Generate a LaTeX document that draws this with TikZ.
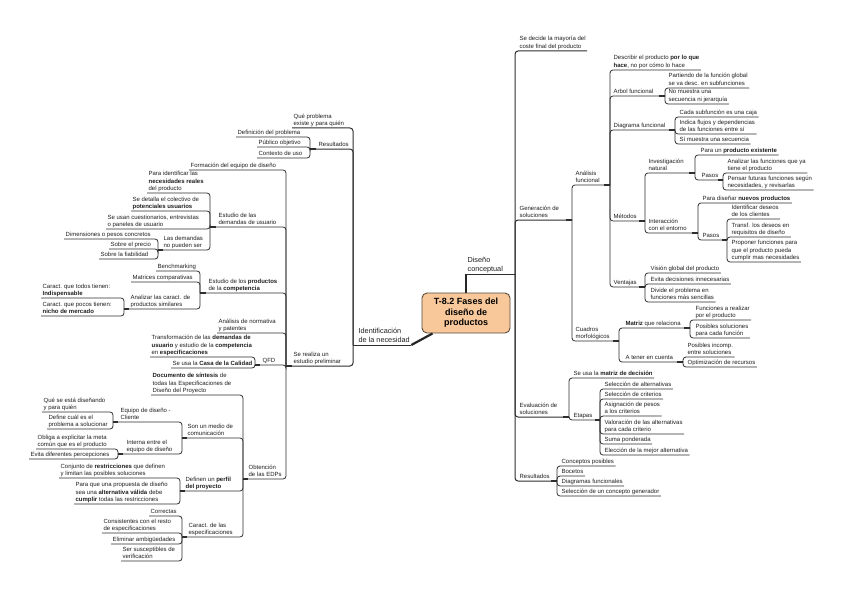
\documentclass[tikz,border=0pt]{standalone}
\usepackage{fontspec}
\setmainfont{Liberation Sans}
\usepackage{tikz}

\definecolor{boxfill}{HTML}{F8C89A}
\definecolor{boxline}{HTML}{5A4A3A}
\definecolor{linecol}{HTML}{2E2E2E}
\definecolor{txtcol}{HTML}{1E1E1E}

\begin{document}
\begin{tikzpicture}[x=1pt, y=-1pt,
    topic/.style={anchor=south west, font=\fontsize{6}{7.4}\selectfont, text=txtcol,
        align=left, inner ysep=0.8pt, inner xsep=1.4pt, text depth=1.6pt},
    main/.style={topic, font=\fontsize{7.3}{8.6}\selectfont},
    root/.style={draw=boxline, fill=boxfill, rounded corners=5pt, line width=0.9pt,
        font=\fontsize{9}{10.5}\selectfont\bfseries, align=center,
        minimum width=88pt, minimum height=40pt, inner sep=2pt},
    conn/.style={draw=linecol, line width=0.8pt, rounded corners=3pt},
    conn1/.style={conn, line width=1pt},
    hub/.style={draw=linecol, line width=1.8pt},
    trunk/.style={draw=black!85, line width=2.2pt}]

    \useasboundingbox (0,0) rectangle (848,599);

    % =================================================================
    % TEMA CENTRAL
    % =================================================================
    \node[root] (root) at (466,313) {T-8.2 Fases del\\diseño de\\productos};

    % =================================================================
    % RAMA DERECHA: DISEÑO CONCEPTUAL
    % =================================================================
    \node[main] (dc) at (466,274) {Diseño\\conceptual};
    \coordinate (dcJ) at (515,274);

    \node[topic] (sd)  at (518,51)  {Se decide la mayoría del\\coste final del producto};
    \node[topic] (gen) at (518,220) {Generación de\\soluciones};
    \node[topic] (eva) at (518,417) {Evaluación de\\soluciones};
    \node[topic] (res) at (518,481) {Resultados};
    \coordinate (genJ) at (572,220);
    \coordinate (evaJ) at (569,417);
    \coordinate (resJ) at (557,481);

    % Generación de soluciones
    \node[topic] (af) at (574,185) {Análisis\\funcional};
    \node[topic] (cm) at (574,341) {Cuadros\\morfológicos};
    \coordinate (afJ) at (610,185);
    \coordinate (cmJ) at (619,341);

    % Análisis funcional
    \node[topic] (desc) at (612,70)  {Describir el producto \textbf{por lo que}\\\textbf{hace}, no por cómo lo hace};
    \node[topic] (arb)  at (612,96)  {Arbol funcional};
    \node[topic] (diag) at (612,130) {Diagrama funcional};
    \node[topic] (met)  at (612,221) {Métodos};
    \node[topic] (ven)  at (612,287) {Ventajas};
    \coordinate (arbJ)  at (665,96);
    \coordinate (diagJ) at (675,130);
    \coordinate (metJ)  at (645,221);
    \coordinate (venJ)  at (645,287);

    \node[topic] (part) at (667,88)  {Partiendo de la función global\\se va desc. en subfunciones};
    \node[topic] (nom)  at (667,104) {No muestra una\\secuencia ni jerarquía};

    \node[topic] (caja)   at (678,117) {Cada subfunción es una caja};
    \node[topic] (flujos) at (678,134) {Indica flujos y dependencias\\de las funciones entre sí};
    \node[topic] (sec)    at (678,144) {Sí muestra una secuencia};

    % Métodos
    \node[topic] (inv)   at (647,173) {Investigación\\natural};
    \node[topic] (inter) at (647,233) {Interacción\\con el entorno};
    \coordinate (invJ)   at (695,173);
    \coordinate (interJ) at (698,233);

    \node[topic] (pex)  at (699,155) {Para un \textbf{producto existente}};
    \node[topic] (pas1) at (700,180) {Pasos};
    \coordinate (pas1J) at (723,180);
    \node[topic] (anl)  at (726,173) {Analizar las funciones que ya\\tiene el producto};
    \node[topic] (pens) at (726,190) {Pensar futuras funciones según\\necesidades, y revisarlas};

    \node[topic] (pdn)  at (701,203) {Para diseñar \textbf{nuevos productos}};
    \node[topic] (pas2) at (701,240) {Pasos};
    \coordinate (pas2J) at (727,240);
    \node[topic] (iden)   at (730,219) {Identificar deseos\\de los clientes};
    \node[topic] (transf) at (730,237) {Transf. los deseos en\\requisitos de diseño};
    \node[topic] (prop)   at (730,262) {Proponer funciones para\\que el producto pueda\\cumplir mas necesidades};

    % Ventajas
    \node[topic] (vis) at (649,273) {Visión global del producto};
    \node[topic] (evi) at (649,284) {Evita decisiones innecesarias};
    \node[topic] (div) at (649,302) {Divide el problema en\\funciones más sencillas};

    % Cuadros morfológicos
    \node[topic] (mat) at (624,328) {\textbf{Matriz} que relaciona};
    \node[topic] (ate) at (624,362) {A tener en cuenta};
    \coordinate (matJ) at (690,328);
    \coordinate (ateJ) at (683,362);
    \node[topic] (fun) at (694,320) {Funciones a realizar\\por el producto};
    \node[topic] (pos) at (694,338) {Posibles soluciones\\para cada función};
    \node[topic] (inc) at (686,357) {Posibles incomp.\\entre soluciones};
    \node[topic] (opt) at (686,367) {Optimización de recursos};

    % Evaluación de soluciones
    \node[topic] (mdd) at (572,378) {Se usa la \textbf{matriz de decisión}};
    \node[topic] (eta) at (572,420) {Etapas};
    \coordinate (etaJ) at (600,420);
    \node[topic] (sa)   at (603,389) {Selección de alternativas};
    \node[topic] (sc)   at (603,399) {Selección de criterios};
    \node[topic] (asi)  at (603,416) {Asignación de pesos\\a los criterios};
    \node[topic] (val)  at (603,434) {Valoración de las alternativas\\para cada criterio};
    \node[topic] (suma) at (603,444) {Suma ponderada};
    \node[topic] (ele)  at (603,455) {Elección de la mejor alternativa};

    % Resultados
    \node[topic] (cp)  at (560,466) {Conceptos posibles};
    \node[topic] (boc) at (560,476) {Bocetos};
    \node[topic] (dfu) at (560,486) {Diagramas funcionales};
    \node[topic] (scg) at (560,496) {Selección de un concepto generador};

    % conectores derecha
    \draw[trunk] (root.north) -- (dc.south west);
    \draw[conn1] (dc.south west) -- (dcJ);
    \draw[conn1] (dcJ) |- (sd.south east);
    \draw[conn1] (dcJ) |- (genJ);
    \draw[conn1] (dcJ) |- (evaJ);
    \draw[conn1] (dcJ) |- (resJ);

    \draw[conn] (genJ) |- (afJ);
    \draw[conn] (genJ) |- (cmJ);

    \draw[conn] (afJ) |- (desc.south east);
    \draw[conn] (afJ) |- (arbJ);
    \draw[conn] (afJ) |- (diagJ);
    \draw[conn] (afJ) |- (metJ);
    \draw[conn] (afJ) |- (venJ);

    \draw[conn] (arbJ) |- (part.south east);
    \draw[conn] (arbJ) |- (nom.south east);
    \draw[conn] (diagJ) |- (caja.south east);
    \draw[conn] (diagJ) |- (flujos.south east);
    \draw[conn] (diagJ) |- (sec.south east);

    \draw[conn] (metJ) |- (invJ);
    \draw[conn] (metJ) |- (interJ);
    \draw[conn] (invJ) |- (pex.south east);
    \draw[conn] (invJ) |- (pas1J);
    \draw[conn] (pas1J) |- (anl.south east);
    \draw[conn] (pas1J) |- (pens.south east);
    \draw[conn] (interJ) |- (pdn.south east);
    \draw[conn] (interJ) |- (pas2J);
    \draw[conn] (pas2J) |- (iden.south east);
    \draw[conn] (pas2J) |- (transf.south east);
    \draw[conn] (pas2J) |- (prop.south east);

    \draw[conn] (venJ) |- (vis.south east);
    \draw[conn] (venJ) |- (evi.south east);
    \draw[conn] (venJ) |- (div.south east);

    \draw[conn] (cmJ) |- (matJ);
    \draw[conn] (cmJ) |- (ateJ);
    \draw[conn] (matJ) |- (fun.south east);
    \draw[conn] (matJ) |- (pos.south east);
    \draw[conn] (ateJ) |- (inc.south east);
    \draw[conn] (ateJ) |- (opt.south east);

    \draw[conn] (evaJ) |- (mdd.south east);
    \draw[conn] (evaJ) |- (etaJ);
    \draw[conn] (etaJ) |- (sa.south east);
    \draw[conn] (etaJ) |- (sc.south east);
    \draw[conn] (etaJ) |- (asi.south east);
    \draw[conn] (etaJ) |- (val.south east);
    \draw[conn] (etaJ) |- (suma.south east);
    \draw[conn] (etaJ) |- (ele.south east);

    \draw[conn] (resJ) |- (cp.south east);
    \draw[conn] (resJ) |- (boc.south east);
    \draw[conn] (resJ) |- (dfu.south east);
    \draw[conn] (resJ) |- (scg.south east);

    % engrosamientos en los nudos
    \draw[hub] (genJ) -- ++(-6,0);
    \draw[hub] (evaJ) -- ++(-6,0);
    \draw[hub] (resJ) -- ++(-6,0);
    \draw[hub] (afJ) -- ++(-6,0);
    \draw[hub] (cmJ) -- ++(-6,0);
    \draw[hub] (arbJ) -- ++(-6,0);
    \draw[hub] (diagJ) -- ++(-6,0);
    \draw[hub] (metJ) -- ++(-6,0);
    \draw[hub] (venJ) -- ++(-6,0);
    \draw[hub] (invJ) -- ++(-6,0);
    \draw[hub] (interJ) -- ++(-6,0);
    \draw[hub] (pas1J) -- ++(-5,0);
    \draw[hub] (pas2J) -- ++(-5,0);
    \draw[hub] (matJ) -- ++(-6,0);
    \draw[hub] (ateJ) -- ++(-6,0);
    \draw[hub] (etaJ) -- ++(-5,0);

    % =================================================================
    % RAMA IZQUIERDA: IDENTIFICACIÓN DE LA NECESIDAD
    % =================================================================
    \node[main] (idn) at (357,345) {Identificación\\de la necesidad};
    \coordinate (idnJ) at (353,345);

    \node[topic] (qp)   at (292,128) {Qué problema\\existe y para quién};
    \node[topic] (resL) at (317,149) {Resultados};
    \node[topic] (ser)  at (292,366) {Se realiza un\\estudio preliminar};
    \coordinate (resLJ) at (310,149);
    \coordinate (serJ)  at (286,366);

    % Resultados
    \node[topic] (defp) at (236,137) {Definición del problema};
    \node[topic] (pub)  at (257,147) {Público objetivo};
    \node[topic] (ctx)  at (257,158) {Contexto de uso};

    % Se realiza un estudio preliminar
    \node[topic] (form) at (189,170) {Formación del equipo de diseño};
    \node[topic] (edu)  at (217,227) {Estudio de las\\demandas de usuario};
    \node[topic] (epc)  at (207,293) {Estudio de los \textbf{productos}\\de la \textbf{competencia}};
    \node[topic] (anp)  at (217,333) {Análisis de normativa\\y patentes};
    \node[topic] (qfd)  at (261,365) {QFD};
    \node[topic] (obt)  at (247,479) {Obtención\\de las EDPs};
    \coordinate (eduJ) at (210,227);
    \coordinate (epcJ) at (200,293);
    \coordinate (qfdJ) at (255,365);
    \coordinate (obtJ) at (243,479);

    % Estudio de las demandas de usuario
    \node[topic] (pid) at (147,193) {Para identificar las\\\textbf{necesidades reales}\\del producto};
    \node[topic] (sdc) at (131,211) {Se detalla el colectivo de\\\textbf{potenciales usuarios}};
    \node[topic] (suc) at (106,229) {Se usan cuestionarios, entrevistas\\o paneles de usuario};
    \node[topic] (ldn) at (162,250) {Las demandas\\no pueden ser};
    \coordinate (ldnJ) at (158,250);
    \node[topic] (dim) at (64,239)  {Dimensiones o pesos concretos};
    \node[topic] (sep) at (109,249) {Sobre el precio};
    \node[topic] (sfi) at (99,259)  {Sobre la fiabilidad};

    % Estudio de los productos de la competencia
    \node[topic] (ben) at (156,271) {Benchmarking};
    \node[topic] (mco) at (131,282) {Matrices comparativas};
    \node[topic] (acs) at (129,309) {Analizar las caract. de\\productos similares};
    \coordinate (acsJ) at (124,309);
    \node[topic] (ctt) at (41,298) {Caract. que todos tienen:\\\textbf{Indispensable}};
    \node[topic] (cpt) at (41,316) {Caract. que pocos tienen:\\\textbf{nicho de mercado}};

    % QFD
    \node[topic] (tra) at (150,357) {Transformación de las \textbf{demandas de}\\\textbf{usuario} y estudio de la \textbf{competencia}\\en \textbf{especificaciones}};
    \node[topic] (cdc) at (171,368) {Se usa la \textbf{Casa de la Calidad}};

    % Obtención de las EDPs
    \node[topic] (doc)  at (151,395) {\textbf{Documento de síntesis} de\\todas las Especificaciones de\\Diseño del Proyecto};
    \node[topic] (smc)  at (186,438) {Son un medio de\\comunicación};
    \node[topic] (dpp)  at (184,491) {Definen un \textbf{perfil}\\\textbf{del proyecto}};
    \node[topic] (cesp) at (187,537) {Caract. de las\\especificaciones};
    \coordinate (smcJ)  at (182,438);
    \coordinate (dppJ)  at (180,491);
    \coordinate (cespJ) at (182,537);

    \node[topic] (edc) at (119,422) {Equipo de diseño -\\Cliente};
    \node[topic] (ieq) at (125,454) {Interna entre el\\equipo de diseño};
    \coordinate (edcJ) at (113,422);
    \coordinate (ieqJ) at (118,454);
    \node[topic] (qsd) at (42,412) {Qué se está diseñando\\y para quién};
    \node[topic] (dcp) at (47,429) {Define cuál es el\\problema a solucionar};
    \node[topic] (obl) at (36,449) {Obliga a explicitar la meta\\común que es el producto};
    \node[topic] (edp) at (29,459) {Evita diferentes percepciones};

    \node[topic] (cjr) at (59,478) {Conjunto de \textbf{restricciones} que definen\\y limitan las posibles soluciones};
    \node[topic] (pqu) at (74,504) {Para que una propuesta de diseño\\sea una \textbf{alternativa válida} debe\\\textbf{cumplir} todas las restricciones};

    \node[topic] (cor)  at (149,516) {Correctas};
    \node[topic] (cons) at (102,533) {Consistentes con el resto\\de especificaciones};
    \node[topic] (elim) at (111,544) {Eliminar ambigüedades};
    \node[topic] (ssv)  at (121,561) {Ser susceptibles de\\verificación};

    % conectores izquierda
    \draw[trunk] ([xshift=11pt]root.south west) -- (idn.south east);
    \draw[conn1] (idn.south east) -- (idnJ);
    \draw[conn1] (idnJ) |- (qp.south west);
    \draw[conn1] (idnJ) |- (resLJ);
    \draw[conn1] (idnJ) |- (serJ);

    \draw[conn] (resLJ) |- (defp.south west);
    \draw[conn] (resLJ) |- (pub.south west);
    \draw[conn] (resLJ) |- (ctx.south west);

    \draw[conn] (serJ) |- (form.south west);
    \draw[conn] (serJ) |- (eduJ);
    \draw[conn] (serJ) |- (epcJ);
    \draw[conn] (serJ) |- (anp.south west);
    \draw[conn] (serJ) |- (qfdJ);
    \draw[conn] (serJ) |- (obtJ);

    \draw[conn] (eduJ) |- (pid.south west);
    \draw[conn] (eduJ) |- (sdc.south west);
    \draw[conn] (eduJ) |- (suc.south west);
    \draw[conn] (eduJ) |- (ldnJ);
    \draw[conn] (ldnJ) |- (dim.south west);
    \draw[conn] (ldnJ) |- (sep.south west);
    \draw[conn] (ldnJ) |- (sfi.south west);

    \draw[conn] (epcJ) |- (ben.south west);
    \draw[conn] (epcJ) |- (mco.south west);
    \draw[conn] (epcJ) |- (acsJ);
    \draw[conn] (acsJ) |- (ctt.south west);
    \draw[conn] (acsJ) |- (cpt.south west);

    \draw[conn] (qfdJ) |- (tra.south west);
    \draw[conn] (qfdJ) |- (cdc.south west);

    \draw[conn] (obtJ) |- (doc.south west);
    \draw[conn] (obtJ) |- (smcJ);
    \draw[conn] (obtJ) |- (dppJ);
    \draw[conn] (obtJ) |- (cespJ);

    \draw[conn] (smcJ) |- (edcJ);
    \draw[conn] (smcJ) |- (ieqJ);
    \draw[conn] (edcJ) |- (qsd.south west);
    \draw[conn] (edcJ) |- (dcp.south west);
    \draw[conn] (ieqJ) |- (obl.south west);
    \draw[conn] (ieqJ) |- (edp.south west);

    \draw[conn] (dppJ) |- (cjr.south west);
    \draw[conn] (dppJ) |- (pqu.south west);

    \draw[conn] (cespJ) |- (cor.south west);
    \draw[conn] (cespJ) |- (cons.south west);
    \draw[conn] (cespJ) |- (elim.south west);
    \draw[conn] (cespJ) |- (ssv.south west);

    % engrosamientos en los nudos
    \draw[hub] (resLJ) -- ++(6,0);
    \draw[hub] (serJ) -- ++(6,0);
    \draw[hub] (eduJ) -- ++(6,0);
    \draw[hub] (ldnJ) -- ++(5,0);
    \draw[hub] (epcJ) -- ++(6,0);
    \draw[hub] (acsJ) -- ++(5,0);
    \draw[hub] (qfdJ) -- ++(5,0);
    \draw[hub] (obtJ) -- ++(5,0);
    \draw[hub] (smcJ) -- ++(5,0);
    \draw[hub] (dppJ) -- ++(5,0);
    \draw[hub] (cespJ) -- ++(5,0);
    \draw[hub] (edcJ) -- ++(5,0);
    \draw[hub] (ieqJ) -- ++(5,0);

\end{tikzpicture}
\end{document}
